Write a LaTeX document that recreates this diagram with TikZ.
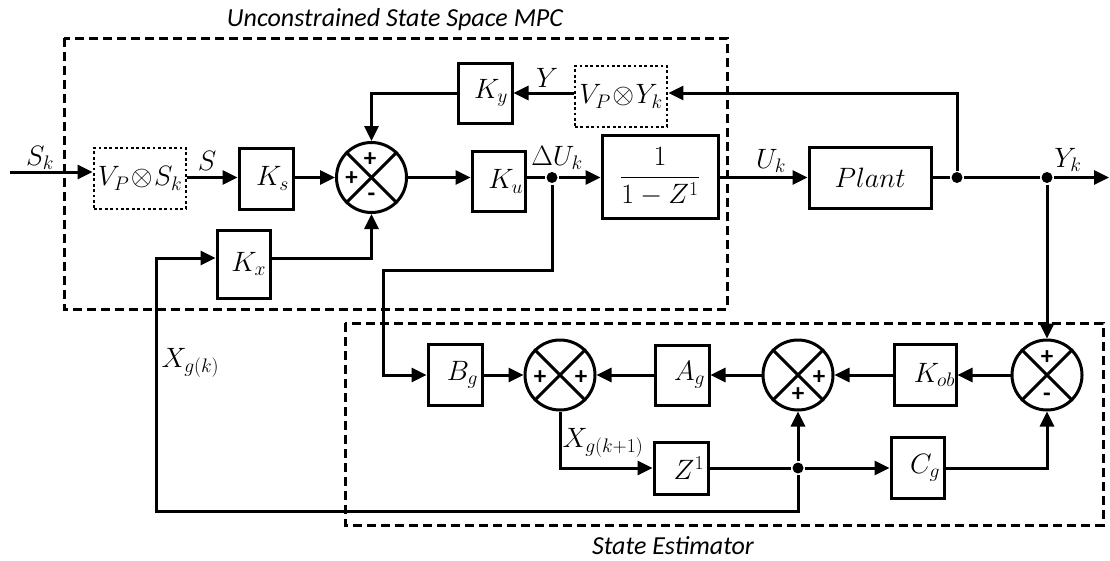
\RequirePackage{fix-cm}
\documentclass[tikz,border=0pt]{standalone}
\usepackage{amsmath}
\usepackage{fontspec}
\newfontfamily\carlito{Carlito}
\usetikzlibrary{arrows.meta,calc}
\begin{document}
\begin{tikzpicture}[x=1pt,y=-1pt,
  every path/.style={line width=3pt},
  arr/.style={-{Triangle[length=15pt,width=14pt]}},
  blk/.style={draw,line width=3pt,inner xsep=4pt,inner ysep=0pt,align=right,font=\fontsize{28}{32}\selectfont},
  dotbox/.style={draw,line width=2.8pt,dash pattern=on 2.8pt off 2.6pt,inner sep=0pt,font=\fontsize{28}{32}\selectfont},
  sumj/.style={draw,circle,line width=3pt,minimum size=70pt,inner sep=0pt},
  dbox/.style={line width=3pt,dash pattern=on 9pt off 5pt},
  dot/.style={circle,fill,inner sep=0pt,minimum size=11pt},
  sgn/.style={font=\carlito\bfseries\fontsize{25}{25}\selectfont,inner sep=0pt},
  lbl/.style={font=\fontsize{28}{32}\selectfont,inner sep=0pt,anchor=base},
  ttl/.style={font=\carlito\itshape\fontsize{26}{30}\selectfont,inner sep=0pt,anchor=base}
]
\useasboundingbox (0,0) rectangle (1110,560);

% dashed frames
\draw[dbox] (64,38) rectangle (727,309);
\draw[dbox] (345,323) rectangle (1103,525);
\node[ttl] (t1) at (395,26) {Unconstrained State Space MPC};
\node[ttl] (t2) at (673,554) {State Estimator};

% blocks, top part
\node[dotbox,minimum width=92pt,minimum height=61pt] (vps) at (140,178.5) {$V_P\!\otimes\! S_k$};
\node[blk,text width=46pt,minimum height=61pt] (Ks) at (266,178.5) {$K_s$};
\node[sumj] (s1) at (371.5,177.5) {};
\node[blk,text width=46pt,minimum height=60pt] (Ky) at (485,93) {$K_y$};
\node[dotbox,minimum width=92pt,minimum height=61pt] (vpy) at (621,96.5) {$V_P\!\otimes\! Y_k$};
\node[blk,minimum height=60pt,inner xsep=2pt,text width=49pt] (Ku) at (498.5,181.5) {$K_u$};
\node[blk,align=center,text width=108pt,minimum height=83pt] (tf) at (660,176.5) {$\dfrac{1}{1-Z^{1}}$};
\node[blk,align=center,text width=114pt,minimum height=61pt] (pl) at (870,177.5) {$Plant$};
\node[blk,text width=45pt,minimum height=68pt] (Kx) at (243.5,264) {$K_x$};

% blocks, estimator
\node[blk,text width=46pt,minimum height=61pt] (Bg) at (455,375) {$B_g$};
\node[sumj] (s2) at (560,375) {};
\node[blk,text width=46pt,minimum height=60pt] (Ag) at (682,375) {$A_g$};
\node[sumj] (s3) at (798,375) {};
\node[blk,minimum height=61pt,inner xsep=1pt,text width=60pt] (Kob) at (925,375) {$K_{ob}$};
\node[sumj] (s4) at (1047,375) {};
\node[blk,text width=46pt,minimum height=52pt] (Z1) at (681,468) {$Z^{1}$};
\node[blk,text width=45pt,minimum height=61pt] (Cg) at (917.5,468) {$C_g$};

% crosses in summing junctions
\foreach \s in {s1,s2,s3,s4}{
  \draw (\s.north west) -- (\s.south east);
  \draw (\s.north east) -- (\s.south west);
}
% signs
\node[sgn] (p1a) at ($(s1)+(-1.5,-18)$) {+};
\node[sgn] (p1b) at ($(s1)+(-20,1)$) {+};
\node[sgn] (p1c) at ($(s1)+(0,20)$) {-};
\node[sgn] (p2a) at ($(s2)+(-20,3)$) {+};
\node[sgn] (p2b) at ($(s2)+(21,3)$) {+};
\node[sgn] (p3a) at ($(s3)+(21,3)$) {+};
\node[sgn] (p3b) at ($(s3)+(0,20)$) {+};
\node[sgn] (p4a) at ($(s4)+(0,-17)$) {+};
\node[sgn] (p4b) at ($(s4)+(0,22)$) {-};

% junction points
\coordinate (skin) at (10,172);
\coordinate (yout) at (1109,177.5);
\node[dot] (j1) at (552,177.5) {};
\node[dot] (j2) at (957,177.5) {};
\node[dot] (j3) at (1047,177.5) {};
\node[dot] (j4) at (798,468) {};
\coordinate (kxrow) at (0,258);
\coordinate (c1) at (383,270);
\coordinate (c2) at (156,511);

% connectors, top
\draw[arr] (skin) -- (skin -| vps.west);
\draw[arr] (vps.east |- s1) -- (Ks.west |- s1);
\draw[arr] (Ks.east |- s1) -- (s1.west);
\draw[arr] (s1.east) -- (Ku.west |- s1);
\draw (Ku.east |- s1) -- (j1);
\draw[arr] (j1) -- (tf.west |- j1);
\draw[arr] (tf.east |- j1) -- (pl.west |- j1);
\draw (pl.east |- j1) -- (j2) -- (j3);
\draw[arr] (j3) -- (yout);
\draw[arr] (j2) |- (vpy.east |- Ky);
\draw[arr] (vpy.west |- Ky) -- (Ky.east);
\draw[arr] (Ky.west) -| (s1.north);
\draw[arr] (Kx.east |- kxrow) -| (s1.south);
\draw[arr] (j1) |- (c1) |- (Bg.west);

% connectors, estimator
\draw[arr] (Bg.east) -- (s2.west);
\draw[arr] (Ag.west) -- (s2.east);
\draw[arr] (s3.west) -- (Ag.east);
\draw[arr] (Kob.west) -- (s3.east);
\draw[arr] (s4.west) -- (Kob.east);
\draw[arr] (j3) -- (s4.north);
\draw[arr] (s2.south) |- (Z1.west);
\draw (Z1.east) -- (j4);
\draw[arr] (j4) -- (Cg.west);
\draw[arr] (j4) -- (s3.south);
\draw[arr] (Cg.east) -| (s4.south);
\draw[arr] (j4) |- (c2) |- (Kx.west |- kxrow);

% signal labels
\node[lbl] (lSk) at (40,165) {$S_k$};
\node[lbl] (lS) at (207,170) {$S$};
\node[lbl] (lY) at (547,87) {$Y$};
\node[lbl] (lDU) at (557,165) {$\Delta U_k$};
\node[lbl] (lUk) at (771,168) {$U_k$};
\node[lbl] (lYk) at (1068,167) {$Y_k$};
\node[lbl,anchor=base west] (lXk) at (160,367) {$X_{g(k)}$};
\node[lbl,anchor=base west] (lXk1) at (561,447) {$X_{g(k+1)}$};
\end{tikzpicture}
\end{document}
